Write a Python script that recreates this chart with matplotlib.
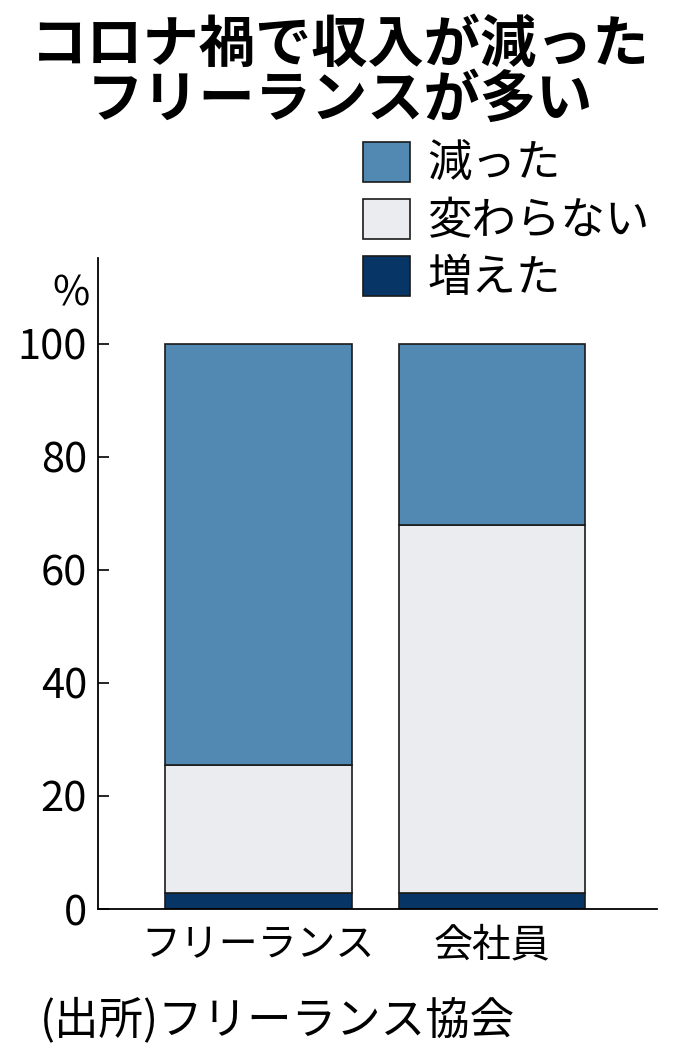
import matplotlib
matplotlib.use('Agg')
import matplotlib.pyplot as plt

plt.rcParams['font.family'] = ['Noto Sans CJK JP', 'DejaVu Sans']

# data (%)
groups = ['フリーランス', '会社員']
increased = [2.8, 2.8]
unchanged = [22.7, 65.2]
decreased = [74.5, 32.0]
labels = ['増えた', '変わらない', '減った']
colors = ['#063566', '#ebecf0', '#5189b3']
yticks = [0, 20, 40, 60, 80, 100]

fig = plt.figure(figsize=(6.8, 10.58), dpi=100)
ax = fig.add_axes([98 / 680, 1 - 909 / 1058, (657 - 98) / 680, (909 - 258) / 1058])

x = list(range(len(groups)))
bottom = [0, 0]
bars = []
for vals, lab, col in zip([increased, unchanged, decreased], labels, colors):
    b = ax.bar(x, vals, width=0.8, bottom=bottom, color=col, edgecolor='#1a1a1a',
               linewidth=1.2, label=lab)
    bars.append(b)
    bottom = [bt + v for bt, v in zip(bottom, vals)]

ax.set_xlim(-0.687, 1.707)
ax.set_ylim(0, 115.2)
ax.set_yticks(yticks)
ax.set_yticklabels([str(t) for t in yticks], fontsize=30)
ax.set_xticks(x)
ax.set_xticklabels(groups, fontsize=28)
ax.tick_params(axis='y', direction='in', length=8, width=1.2, pad=8)
ax.tick_params(axis='x', length=0, pad=12)
for s in ['top', 'right']:
    ax.spines[s].set_visible(False)
for s in ['left', 'bottom']:
    ax.spines[s].set_linewidth(1.3)

ax.text(-0.015, 0.945, '%', transform=ax.transAxes, ha='right', va='center', fontsize=29)

# legend (reverse order)
handles = [bars[2], bars[1], bars[0]]
fig.legend(handles, [labels[2], labels[1], labels[0]], loc='upper left',
           bbox_to_anchor=(363 / 680, 1 - 141 / 1058), frameon=False, fontsize=32,
           handlelength=1.05, handleheight=1.0, labelspacing=0.25, handletextpad=0.4,
           borderpad=0, borderaxespad=0)

fig.text(0.5, 1 - 45 / 1058, 'コロナ禍で収入が減った', ha='center', va='center',
         fontsize=40.5, fontweight='bold')
fig.text(0.5, 1 - 100 / 1058, 'フリーランスが多い', ha='center', va='center',
         fontsize=40.5, fontweight='bold')
fig.text(40 / 680, 1 - 1020 / 1058, '(出所)フリーランス協会', ha='left', va='center',
         fontsize=32)

fig.savefig('out.png', dpi=100)
